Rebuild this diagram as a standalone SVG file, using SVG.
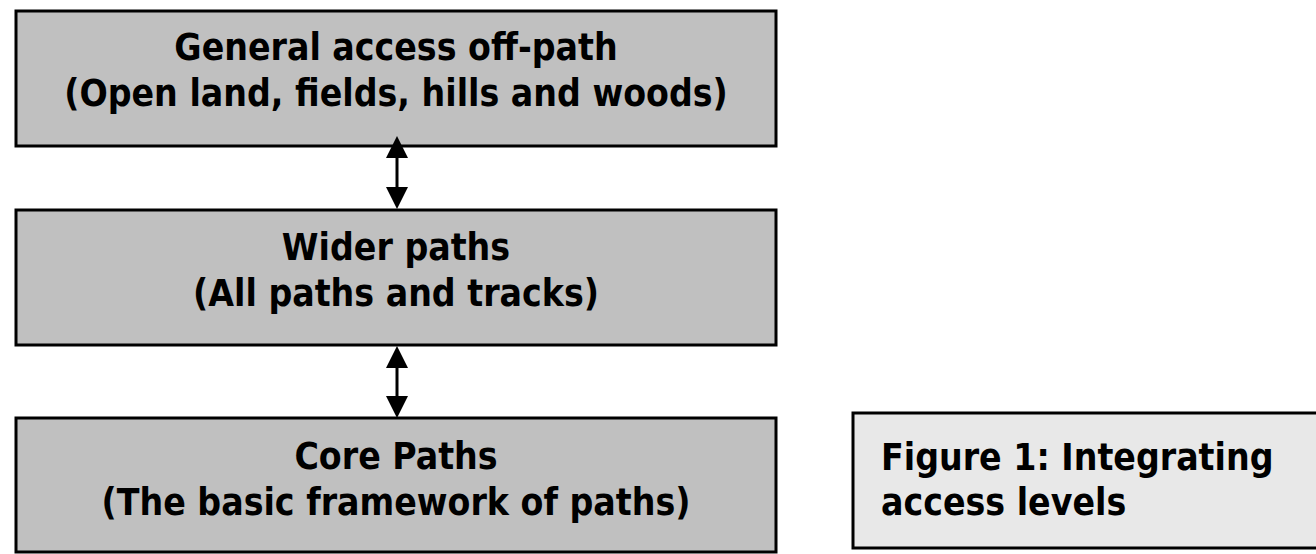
<svg xmlns="http://www.w3.org/2000/svg" width="1316" height="554" viewBox="0 0 1316 554">
  <style>
    .box { fill: #c0c0c0; stroke: #000; stroke-width: 3; }
    .cap { fill: #e8e8e8; stroke: #000; stroke-width: 3; }
    .t { font-family: "DejaVu Sans Condensed", "DejaVu Sans", Verdana, sans-serif; font-stretch: condensed; font-weight: bold; font-size: 37px; fill: #000; }
    .c { text-anchor: middle; }
    .conn { stroke: #000; stroke-width: 3; fill: none; }
  </style>
  <defs>
    <marker id="head" markerUnits="userSpaceOnUse" markerWidth="22" markerHeight="22" refX="0" refY="11" orient="auto-start-reverse" viewBox="0 0 22 22">
      <path d="M0,0 L22,11 L0,22 Z" fill="#000"/>
    </marker>
  </defs>
  <rect width="1316" height="554" fill="#fff"/>
  <g id="node-general">
    <rect class="box" x="16" y="11" width="760" height="135"/>
    <text class="t c" x="396" y="60">General access off-path</text>
    <text class="t c" x="396" y="106">(Open land, fields, hills and woods)</text>
  </g>
  <g id="node-wider">
    <rect class="box" x="16" y="210" width="760" height="135"/>
    <text class="t c" x="396" y="260">Wider paths</text>
    <text class="t c" x="396" y="306">(All paths and tracks)</text>
  </g>
  <g id="node-core">
    <rect class="box" x="16" y="418" width="760" height="134"/>
    <text class="t c" x="396" y="469">Core Paths</text>
    <text class="t c" x="396" y="515">(The basic framework of paths)</text>
  </g>
  <g id="node-caption">
    <rect class="cap" x="853" y="413" width="470" height="135"/>
    <text class="t" x="881" y="470">Figure 1: Integrating</text>
    <text class="t" x="881" y="515">access levels</text>
  </g>
  <g id="connectors">
    <line class="conn" x1="397" y1="158" x2="397" y2="187" marker-start="url(#head)" marker-end="url(#head)"/>
    <line class="conn" x1="397" y1="368" x2="397" y2="396" marker-start="url(#head)" marker-end="url(#head)"/>
  </g>
</svg>
